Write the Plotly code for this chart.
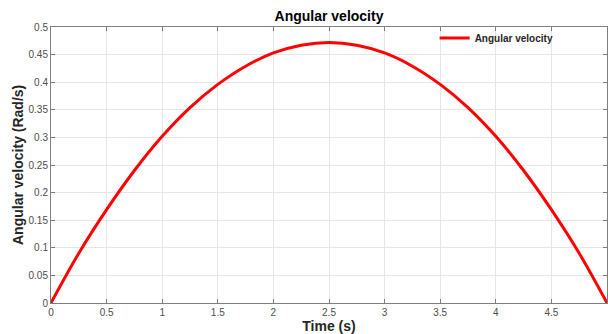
import plotly.graph_objects as go

time_s = [0, 0.25, 0.5, 0.75, 1.0, 1.25, 1.5, 1.75, 2.0, 2.25, 2.5,
          2.75, 3.0, 3.25, 3.5, 3.75, 4.0, 4.25, 4.5, 4.75, 5.0]
ang_vel = [0, 0.090, 0.169, 0.240, 0.302, 0.354, 0.396, 0.429, 0.453, 0.467, 0.472,
           0.467, 0.453, 0.429, 0.396, 0.354, 0.302, 0.240, 0.169, 0.090, 0]

x_ticks = [0, 0.5, 1, 1.5, 2, 2.5, 3, 3.5, 4, 4.5, 5]
y_ticks = [0, 0.05, 0.1, 0.15, 0.2, 0.25, 0.3, 0.35, 0.4, 0.45, 0.5]

FONT = "Liberation Sans, Arial, sans-serif"
AXC = "#7f7f7f"
GRID = "#e6e6e6"
TICKC = "#4d4d4d"

fig = go.Figure()
fig.add_trace(go.Scatter(
    x=time_s, y=ang_vel, mode="lines", name="<b>Angular velocity</b>",
    line=dict(color="#ff0000", width=3, shape="spline", smoothing=1.0),
))

axis_common = dict(
    showline=True, linecolor=AXC, linewidth=1, mirror="ticks",
    ticks="inside", ticklen=4, tickcolor=AXC, tickwidth=1,
    showgrid=True, gridcolor=GRID, gridwidth=1, zeroline=False,
    tickfont=dict(family=FONT, size=10, color=TICKC),
    automargin=False,
)

fig.update_layout(
    template="none",
    width=608, height=334,
    margin=dict(l=51, r=1, t=27, b=31),
    paper_bgcolor="white", plot_bgcolor="white",
    title=dict(text="<b>Angular velocity</b>", x=0.5, xref="paper", xanchor="center",
               y=1 - 16 / 334, yanchor="middle",
               font=dict(family=FONT, size=14, color="#000000")),
    xaxis=dict(range=[0, 5], tickvals=x_ticks, ticktext=[f"{v:g}" for v in x_ticks],
               title=dict(text="<b>Time (s)</b>", font=dict(family=FONT, size=14, color="#262626"), standoff=0),
               **axis_common),
    yaxis=dict(range=[0, 0.5], tickvals=y_ticks, ticktext=[f"{v:g}" for v in y_ticks],
               **axis_common),
    showlegend=True,
    legend=dict(x=0.69, y=0.96, xanchor="left", yanchor="middle",
                bgcolor="rgba(255,255,255,0)", borderwidth=0,
                font=dict(family=FONT, size=10, color="#262626"),
                itemwidth=30, tracegroupgap=0),
    annotations=[dict(
        text="<b>Angular velocity (Rad/s)</b>", textangle=-90,
        xref="paper", yref="paper", x=(18 - 51) / 556, y=0.5,
        xanchor="center", yanchor="middle", showarrow=False,
        font=dict(family=FONT, size=14, color="#262626"),
    )],
)

fig.write_html("out.html")
